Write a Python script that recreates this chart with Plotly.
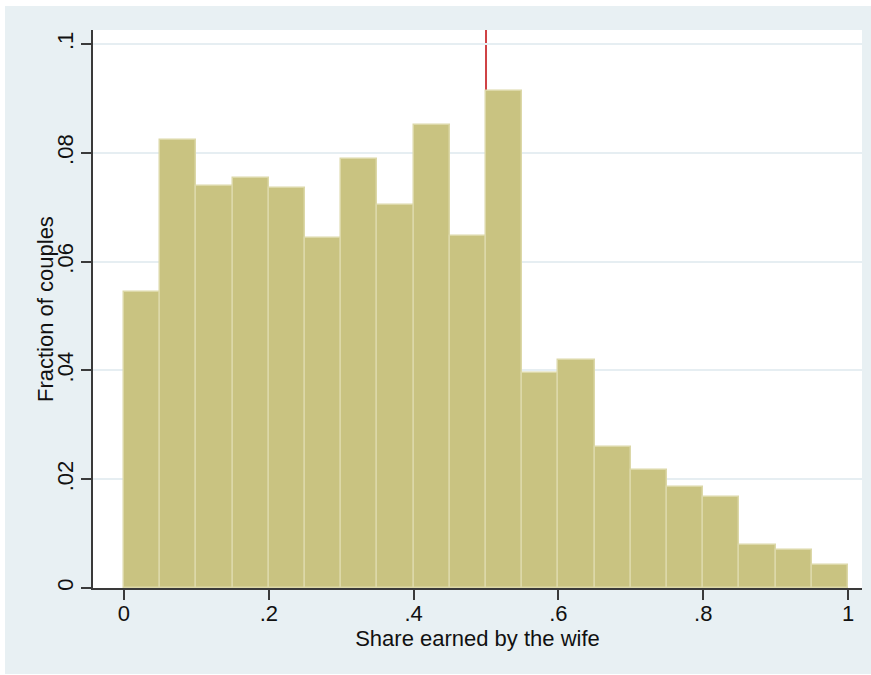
import plotly.graph_objects as go

# Data
bin_starts = [0.00, 0.05, 0.10, 0.15, 0.20, 0.25, 0.30, 0.35, 0.40, 0.45,
              0.50, 0.55, 0.60, 0.65, 0.70, 0.75, 0.80, 0.85, 0.90, 0.95]
bin_width = 0.05
fractions = [0.0545, 0.0824, 0.0740, 0.0753, 0.0736, 0.0643, 0.0788, 0.0704, 0.0851, 0.0647,
             0.0913, 0.0395, 0.0420, 0.0260, 0.0217, 0.0185, 0.0168, 0.0079, 0.0070, 0.0043]
ref_line_x = 0.5
x_tickvals = [0, 0.2, 0.4, 0.6, 0.8, 1]
x_ticktext = ["0", ".2", ".4", ".6", ".8", "1"]
y_tickvals = [0, 0.02, 0.04, 0.06, 0.08, 0.1]
y_ticktext = ["0", ".02", ".04", ".06", ".08", ".1"]

x_range = [-0.0428, 1.0193]
y_range = [0, 0.1026]

BG = "#e8f0f3"
BAR = "#c9c381"
BAR_EDGE = "#dcd8a8"
AXIS = "#3a3a3a"
FONT = "Liberation Sans, Arial, Helvetica, sans-serif"

fig = go.Figure()

fig.add_trace(go.Bar(
    x=[b + bin_width / 2 for b in bin_starts], y=fractions, width=bin_width,
    marker=dict(color=BAR, line=dict(color=BAR_EDGE, width=1.5)),
    showlegend=False))

W, H = 871, 675
ml, mr, mt, mb = 93, 9, 30, 87
pw, ph = W - ml - mr, H - mt - mb

def px_x(p):
    return (p - ml) / pw

def px_y(p):
    return (H - mb - p) / ph

fig.update_layout(
    width=W, height=H,
    margin=dict(l=ml, r=mr, t=mt, b=mb),
    paper_bgcolor="white",
    plot_bgcolor="white",
    bargap=0,
    font=dict(family=FONT, size=22, color="#111111"),
    shapes=[
        dict(type="rect", xref="paper", yref="paper",
             x0=px_x(5), x1=px_x(W + 2), y0=px_y(674), y1=px_y(6),
             fillcolor=BG, line=dict(width=0), layer="below"),
        dict(type="rect", xref="x domain", yref="y domain",
             x0=0, x1=1, y0=0, y1=1,
             fillcolor="white", line=dict(width=0), layer="below"),
        # reference line, below the bars so the bar covers its lower part
        dict(type="line", xref="x", yref="y domain",
             x0=ref_line_x, x1=ref_line_x, y0=0, y1=1,
             line=dict(color="#cf4245", width=2), layer="below"),
    ],
    annotations=[
        dict(text="Fraction of couples", textangle=-90, showarrow=False,
             xref="paper", yref="paper", x=px_x(45), y=0.5,
             xanchor="center", yanchor="middle", font=dict(size=22)),
    ],
    xaxis=dict(
        range=x_range, tickvals=x_tickvals, ticktext=x_ticktext,
        showgrid=False, zeroline=False,
        showline=True, linecolor=AXIS, linewidth=1.5,
        ticks="outside", ticklen=10, tickwidth=1.5, tickcolor=AXIS,
        tickfont=dict(size=22), ticklabelstandoff=-5,
        title=dict(text="Share earned by the wife", font=dict(size=22), standoff=4),
    ),
    yaxis=dict(
        range=y_range, tickvals=y_tickvals, ticktext=y_ticktext,
        tickangle=-90,
        showgrid=True, gridcolor="#e6eef2", gridwidth=1.5,
        zeroline=False,
        showline=True, linecolor=AXIS, linewidth=1.5,
        ticks="outside", ticklen=10, tickwidth=1.5, tickcolor=AXIS,
        tickfont=dict(size=22), ticklabelstandoff=-1,
    ),
)

fig.write_html("out.html")
